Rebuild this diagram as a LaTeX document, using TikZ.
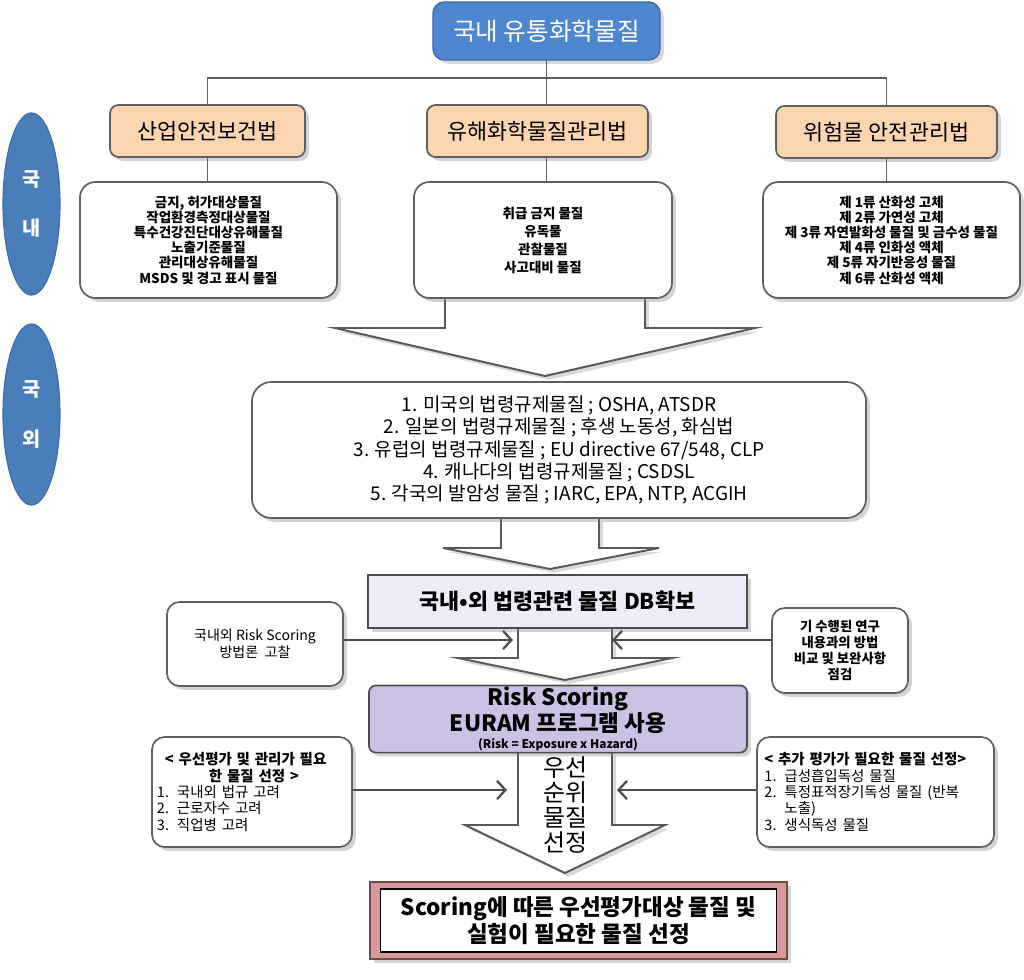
\documentclass[tikz,border=0pt]{standalone}
\usepackage{fontspec}
\setmainfont{Noto Sans CJK KR}
\usepackage{xcolor}
\usetikzlibrary{positioning, arrows.meta, shadows, shapes.geometric}
\definecolor{topblue}{HTML}{4F86D0}
\definecolor{topbluedark}{HTML}{3B6CB0}
\definecolor{ovalblue}{HTML}{4A7EBB}
\definecolor{peach}{HTML}{FBD5AF}
\definecolor{framegray}{HTML}{5F5F5F}
\definecolor{lavender}{HTML}{EFEBF8}
\definecolor{violet}{HTML}{CBC1E4}
\definecolor{rose}{HTML}{D9999A}
\tikzset{
  lawbox/.style={fill=peach, draw=framegray, line width=1.2pt, rounded corners=6pt,
    font=\fontsize{15.5}{18}\selectfont, drop shadow={opacity=0.35}},
  listbox/.style={fill=white, draw=framegray, line width=1.2pt, rounded corners=11pt,
    align=center, font=\bfseries\fontsize{9.6}{10.8}\selectfont, drop shadow={opacity=0.35}},
  sidebox/.style={fill=white, draw=framegray, line width=1.2pt, rounded corners=9pt,
    drop shadow={opacity=0.35}},
  region/.style={ellipse, fill=ovalblue, draw=topbluedark, line width=0.8pt, text=white,
    font=\bfseries\fontsize{14}{35}\selectfont, align=center, inner sep=0pt},
  bigarrow/.style={fill=white, draw=gray!70!black, line width=1.4pt, line join=miter,
    drop shadow={opacity=0.3}},
  feed/.style={draw=gray!60!black, line width=1.6pt,
    -{Straight Barb[length=6pt, width=13pt, line width=1.6pt]}},
  tree/.style={draw=framegray, line width=1.4pt}
}

\begin{document}
\begin{tikzpicture}[x=0.025cm, y=-0.025cm]
  \useasboundingbox (0,0) rectangle (1024,979);

  \draw[bigarrow] (445,298) -- (445,328) -- (335,328) -- (545,376) -- (755,328) -- (645,328) -- (645,298) -- cycle;
  \draw[bigarrow] (501,518) -- (501,548) -- (443,548) -- (550,569) -- (659,548) -- (599,548) -- (599,518) -- cycle;
  \draw[bigarrow] (518,628) -- (518,658) -- (458,658) -- (565,680) -- (672,658) -- (612,658) -- (612,628) -- cycle;
  \draw[bigarrow] (518,752) -- (518,825) -- (465,825) -- (565,873) -- (665,825) -- (612,825) -- (612,752) -- cycle;

  \node[fill=topblue, draw=topbluedark, line width=1pt, rounded corners=8pt,
        minimum width=5.675cm, minimum height=1.45cm, text=white,
        font=\fontsize{17.5}{20}\selectfont, drop shadow={opacity=0.3}] (stock) at (546.5,31) {국내 유통화학물질};

  \node[lawbox, minimum width=4.875cm, minimum height=1.3cm] (safety) at (207.5,131) {산업안전보건법};
  \node[lawbox, minimum width=5.525cm, minimum height=1.3cm] (toxic) at (537.5,131) {유해화학물질관리법};
  \node[lawbox, minimum width=5.525cm, minimum height=1.3cm] (hazmat) at (886.5,132) {위험물 안전관리법};

  \coordinate (bus) at (546.5,78);
  \draw[tree] (stock.south) -- (stock.south |- toxic.north);
  \draw[tree] (safety.north) |- (bus) -| (hazmat.north);

  \node[listbox, minimum width=6.425cm, minimum height=2.9cm] (safelist) at (208.5,240)
    {금지, 허가대상물질\\작업환경측정대상물질\\특수건강진단대상유해물질\\노출기준물질\\관리대상유해물질\\MSDS 및 경고 표시 물질};
  \node[listbox, minimum width=6.45cm, minimum height=2.9cm,
        font=\bfseries\fontsize{9.6}{12.8}\selectfont] (toxlist) at (543,240)
    {취급 금지 물질\\유독물\\관찰물질\\사고대비 물질};
  \node[listbox, minimum width=6.425cm, minimum height=2.9cm] (hazlist) at (891.5,240)
    {제 1류 산화성 고체\\제 2류 가연성 고체\\제 3류 자연발화성 물질 및 금수성 물질\\제 4류 인화성 액체\\제 5류 자기반응성 물질\\제 6류 산화성 액체};

  \draw[tree] (safety.south) -- (safety.south |- safelist.north);
  \draw[tree] (stock.south |- toxic.south) -- (stock.south |- toxlist.north);
  \draw[tree] (hazmat.south) -- (hazmat.south |- hazlist.north);

  \node[region, minimum width=1.425cm, minimum height=4.55cm] (domestic) at (31.5,204) {국\\내};
  \node[region, minimum width=1.425cm, minimum height=4.525cm] (foreign) at (31.5,414.5) {국\\외};

  \node[sidebox, rounded corners=14pt, minimum width=15.35cm, minimum height=3.4cm,
        align=center, font=\fontsize{13.5}{15.8}\selectfont] (abroad) at (559,450)
    {1. 미국의 법령규제물질 ; OSHA, ATSDR\\2. 일본의 법령규제물질 ; 후생 노동성, 화심법\\3. 유럽의 법령규제물질 ; EU directive 67/548, CLP\\4. 캐나다의 법령규제물질 ; CSDSL\\5. 각국의 발암성 물질 ; IARC, EPA, NTP, ACGIH};

  \node[fill=lavender, draw=gray!60!black, line width=1.4pt, minimum width=9.475cm,
        minimum height=1.325cm, font=\bfseries\fontsize{15.5}{18}\selectfont,
        drop shadow={opacity=0.35}] (dbase) at (557.5,601.5) {국내•외 법령관련 물질 DB확보};

  \node[fill=violet, draw=gray!60!black, line width=1.2pt, rounded corners=5pt,
        minimum width=9.45cm, minimum height=1.65cm, align=center, inner sep=1pt,
        font=\bfseries\fontsize{16}{16.4}\selectfont, drop shadow={opacity=0.35}] (scoring) at (558,719)
    {Risk Scoring\\EURAM 프로그램 사용\\[-4pt]{\fontsize{8.5}{9}\selectfont (Risk = Exposure x Hazard)}};

  \node[font=\fontsize{17}{17.6}\selectfont, align=center] (priority) at (565,805) {우선\\순위\\물질\\선정};

  \node[sidebox, minimum width=4.4cm, minimum height=2.1cm, align=center,
        font=\fontsize{10}{12}\selectfont] (method) at (255,644) {국내외 Risk Scoring\\방법론 \ 고찰};
  \node[sidebox, minimum width=3.4cm, minimum height=2.125cm, align=center,
        font=\bfseries\fontsize{9.5}{11.4}\selectfont] (review) at (840,650.5)
    {기 수행된 연구\\내용과의 방법\\비교 및 보완사항\\점검};

  \node[sidebox, minimum width=5cm, minimum height=2.75cm, text width=4.75cm, align=left,
        font=\fontsize{10.3}{11.6}\selectfont] (criteria) at (252,792)
    {\mbox{}\kern0.2cm{\bfseries < 우선평가 및 관리가 필요}\\
     \mbox{}\kern1.3cm{\bfseries 한 물질 선정 >}\\
     \makebox[0.5cm][l]{1.}국내외 법규 고려\\
     \makebox[0.5cm][l]{2.}근로자수 고려\\
     \makebox[0.5cm][l]{3.}직업병 고려};
  \node[sidebox, minimum width=5.925cm, minimum height=2.75cm, text width=5.55cm, align=left,
        font=\fontsize{10.3}{11.6}\selectfont] (extra) at (875.5,792)
    {{\bfseries < 추가 평가가 필요한 물질 선정>}\\
     \makebox[0.5cm][l]{1.}급성흡입독성 물질\\
     \makebox[0.5cm][l]{2.}특정표적장기독성 물질 (반복\\
     \mbox{}\kern0.5cm 노출)\\
     \makebox[0.5cm][l]{3.}생식독성 물질};

  \coordinate (dbL) at (513,640);
  \coordinate (dbR) at (612,640);
  \coordinate (prioL) at (507,790);
  \coordinate (prioR) at (617,790);
  \draw[feed] (method.east |- dbL) -- (dbL);
  \draw[feed] (review.west |- dbR) -- (dbR);
  \draw[feed] (criteria.east |- prioL) -- (prioL);
  \draw[feed] (extra.west |- prioR) -- (prioR);

  \node[fill=rose, draw=rose!50!black, line width=1pt, minimum width=10.425cm,
        minimum height=1.925cm, drop shadow={opacity=0.35}] (resultframe) at (578.5,920.5) {};
  \node[fill=white, draw=black, line width=1pt, minimum width=9.9cm, minimum height=1.575cm,
        align=center, font=\bfseries\fontsize{16}{19}\selectfont] (result) at (resultframe.center)
    {Scoring에 따른 우선평가대상 물질 및\\실험이 필요한 물질 선정};
\end{tikzpicture}
\end{document}
